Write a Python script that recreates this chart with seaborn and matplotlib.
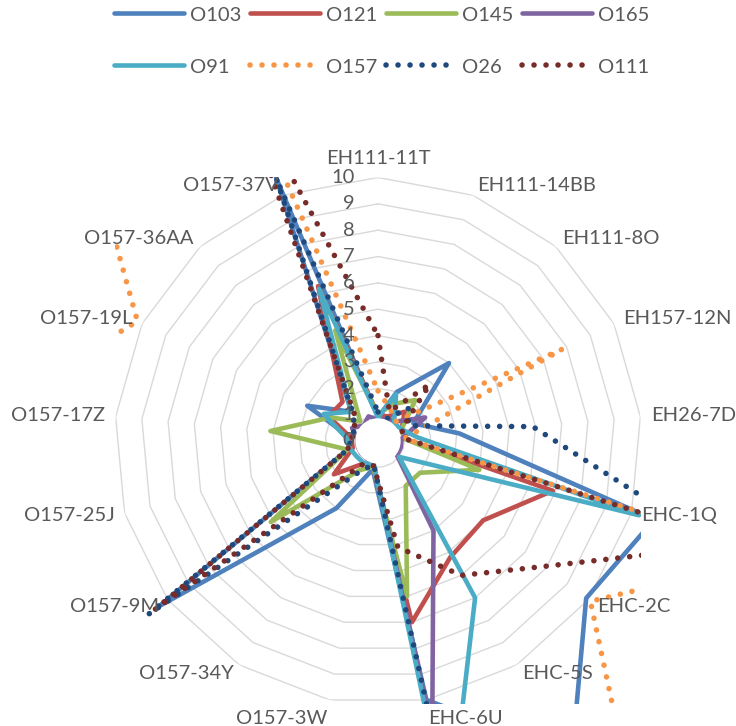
import numpy as np
import pandas as pd
import matplotlib
matplotlib.use("Agg")
import matplotlib.pyplot as plt
from matplotlib.patches import Circle, Rectangle
from matplotlib.lines import Line2D
import seaborn as sns

# Strains around the radar, clockwise from the top
categories = ["EH111-11T", "EH111-14BB", "EH111-8O", "EH157-12N", "EH26-7D",
              "EHC-1Q", "EHC-2C", "EHC-5S", "EHC-6U", "O157-3W", "O157-34Y",
              "O157-9M", "O157-25J", "O157-17Z", "O157-19L", "O157-36AA", "O157-37V"]

# Scores per serogroup (values above 10 run past the plot area)
o103 = [0.9, 2.0, 4.0, 1.5, 3.1, 10.9, 9.9, 14.0, 10.0, 1.1, 3.0, 10.4, 1.2, 1.0, 3.0, 1.5, 10.7]
o121 = [1.0, 1.0, 1.5, 1.0, 1.0, 6.9, 5.0, 5.2, 7.0, 1.0, 1.0, 2.1, 1.0, 1.0, 2.1, 2.0, 6.3]
o145 = [1.0, 1.5, 2.1, 1.0, 1.0, 4.0, 2.0, 2.0, 6.0, 1.0, 1.3, 5.1, 1.2, 4.1, 2.0, 1.0, 4.5]
o165 = [0.8, 0.9, 1.0, 2.0, 0.9, 0.9, 0.9, 4.0, 11.2, 0.9, 0.8, 0.8, 0.8, 0.8, 1.1, 0.8, 1.0]
o91 = [0.9, 1.9, 0.9, 1.0, 1.5, 10.3, 1.0, 7.0, 14.7, 0.9, 1.0, 1.0, 1.1, 1.2, 2.3, 1.5, 6.2]
o157 = [1.9, 1.3, 1.0, 7.8, 1.0, 15.9, 10.1, 19.6, 18.0, 17.0, 17.0, 17.0, 15.0, 14.4, 10.2, 16.8, 17.4]
o26 = [1.1, 0.9, 1.7, 1.3, 5.9, 12.6, 15.0, 15.0, 10.8, 0.9, 1.4, 10.9, 1.2, 1.0, 1.0, 1.4, 10.7]
o111 = [4.0, 1.2, 2.9, 1.0, 1.0, 14.3, 7.9, 6.0, 4.1, 0.95, 1.0, 10.6, 1.2, 1.0, 1.0, 1.3, 14.9]

series_names = ["O103", "O121", "O145", "O165", "O91", "O157", "O26", "O111"]
series_values = [o103, o121, o145, o165, o91, o157, o26, o111]
series_colors = ["#4F81BD", "#C0504D", "#9BBB59", "#8064A2", "#4BACC6",
                 "#F79646", "#1F497D", "#772C2A"]
dotted = ["O157", "O26", "O111"]
r_ticks = list(range(0, 11))

TEXT = "#595959"
FS = 14.5
W, H = 736, 726
SOLID_LW, DOT_LW, DOT_GAP = 3.3, 4.0, 2.15

sns.set_theme(style="white")
plt.rcParams["font.family"] = ["Lato", "DejaVu Sans"]

n = len(categories)
theta = np.arange(n) * 2 * np.pi / n

# long-form table, each polygon closed by repeating its first strain at 2*pi
rows = []
for name, vals in zip(series_names, series_values):
    for i in range(n):
        rows.append({"serotype": name, "strain": categories[i], "theta": theta[i], "value": vals[i]})
    rows.append({"serotype": name, "strain": categories[0], "theta": 2 * np.pi, "value": vals[0]})
df = pd.DataFrame(rows)

fig = plt.figure(figsize=(W / 100, H / 100), dpi=100)
ax = fig.add_axes([0.1556, 0.0296, 0.716, 0.726], projection="polar")
ax.set_theta_zero_location("N")
ax.set_theta_direction(-1)

palette = dict(zip(series_names, series_colors))
dash_map = {s: ((0.01, DOT_GAP) if s in dotted else "") for s in series_names}

sns.lineplot(data=df, x="theta", y="value", hue="serotype", style="serotype",
             hue_order=series_names, style_order=series_names,
             palette=palette, dashes=dash_map, sort=False, estimator=None,
             lw=SOLID_LW, dash_capstyle="round", solid_capstyle="round",
             solid_joinstyle="round", legend=False, ax=ax, zorder=2)
data_lines = list(ax.lines)

# lines leaving the radar are cut at the square plot area
for ln, name in zip(data_lines, series_names):
    ln.set_clip_path(Rectangle((0, 0), 1, 1, transform=ax.transAxes))
    if name in dotted:
        ln.set_linewidth(DOT_LW)

# polygonal grid rings
closed = np.append(theta, 2 * np.pi)
for k in r_ticks[1:]:
    ax.plot(closed, [k] * len(closed), color="#D9D9D9", lw=1.0, zorder=1)

ax.set_ylim(0, 10)
ax.grid(False)
ax.set_xticks([])
ax.set_yticks([])
ax.set_xlabel("")
ax.set_ylabel("")
ax.spines["polar"].set_visible(False)
ax.patch.set_alpha(0)

ax.add_patch(Circle((0.5, 0.5), 0.043, transform=ax.transAxes,
                    facecolor="white", edgecolor="none", zorder=3))

for k in r_ticks:
    ax.annotate(str(k), xy=(0, k), xytext=(-17, 0), textcoords="offset points",
                ha="right", va="center", color=TEXT, fontsize=FS, zorder=5,
                annotation_clip=False)

for t, lab in zip(theta, categories):
    s, c = np.sin(t), np.cos(t)
    ha = "left" if s > 0.05 else ("right" if s < -0.05 else "center")
    va = "bottom" if c > 0.95 else ("top" if c < -0.95 else "center")
    ax.text(t, 10.4, lab, ha=ha, va=va, color=TEXT, fontsize=FS, zorder=5)

# legend: two rows of four equally wide entries
for idx, (name, col) in enumerate(zip(series_names, series_colors)):
    r, c = divmod(idx, 4)
    if name in dotted:
        handle = Line2D([], [], color=col, lw=DOT_LW,
                        linestyle=(0, (0.01, DOT_GAP)), dash_capstyle="round")
    else:
        handle = Line2D([], [], color=col, lw=SOLID_LW, solid_capstyle="round")
    x_px = 114 + 136 * c
    y_px = 15 + 52 * r
    fig.legend([handle], [name], loc="center left",
               bbox_to_anchor=(x_px / W, 1 - y_px / H), frameon=False,
               fontsize=FS, handlelength=3.5, handletextpad=0.27,
               borderaxespad=0.0, borderpad=0.0, labelcolor=TEXT)

fig.savefig("out.png", dpi=100)
